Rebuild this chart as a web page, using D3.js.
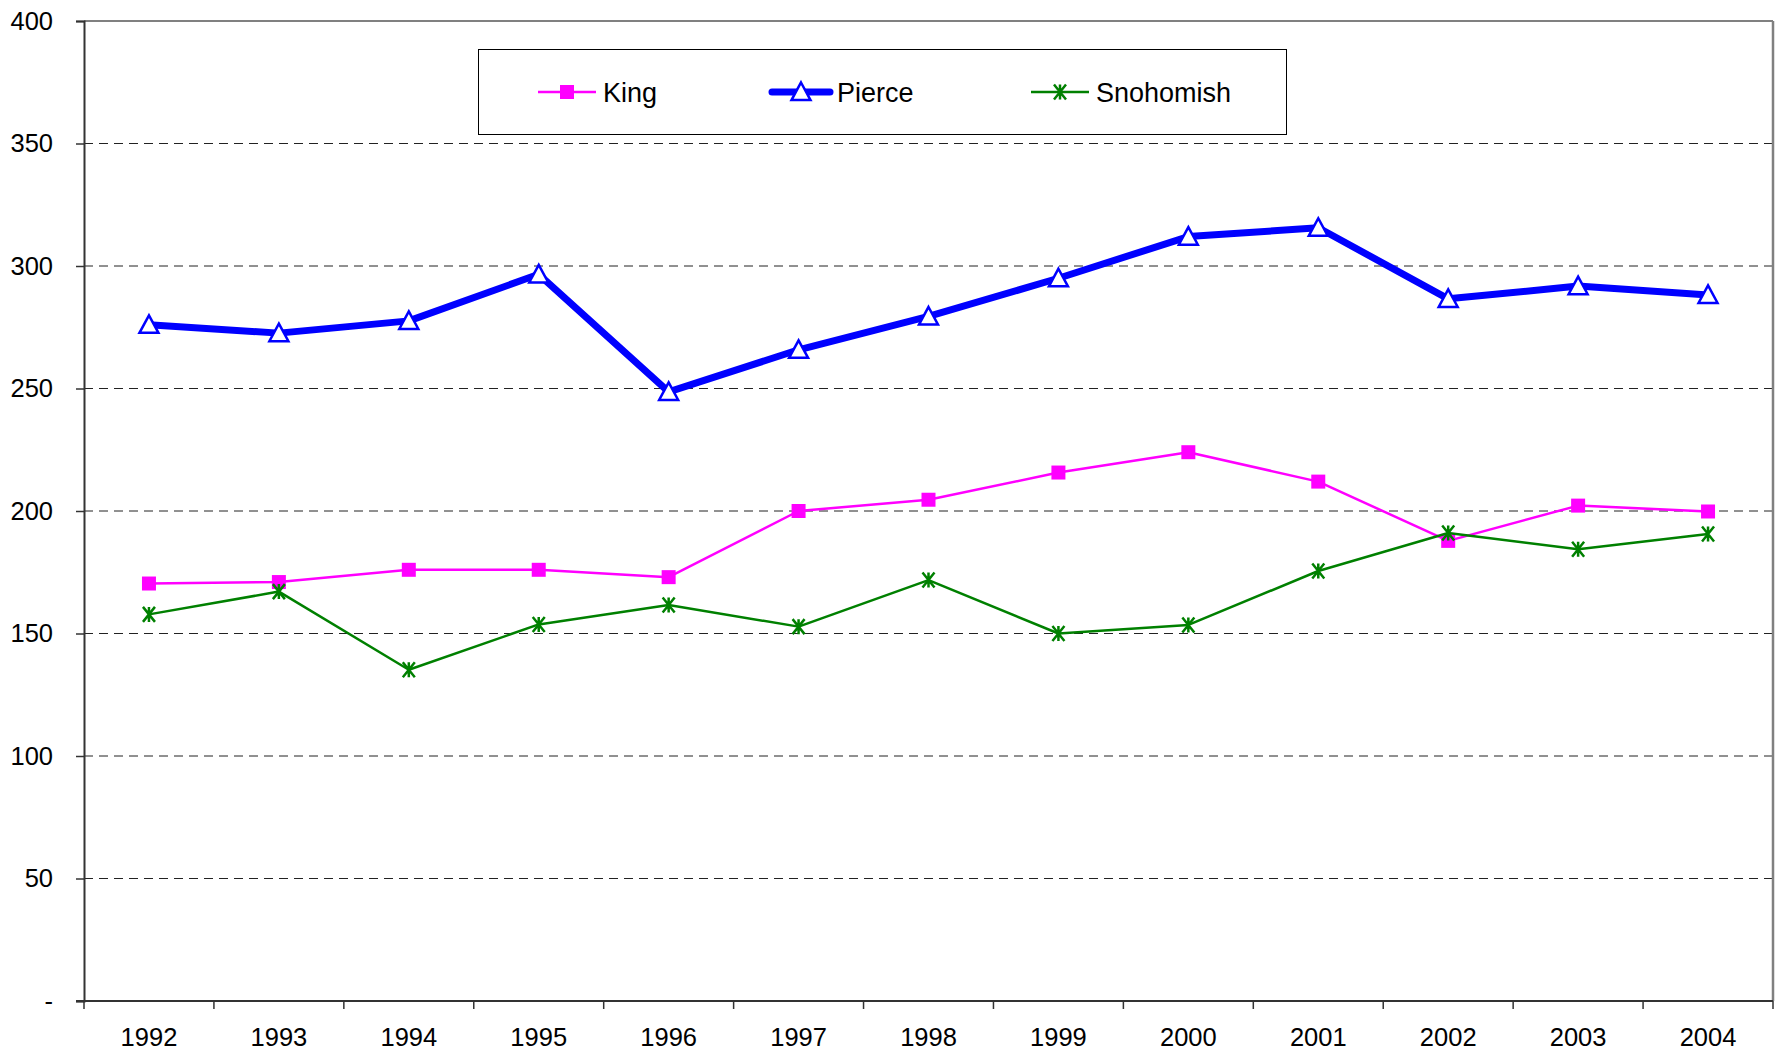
<!DOCTYPE html>
<html lang="en">
<head>
    <meta charset="UTF-8">
    <title>King, Pierce and Snohomish</title>
    <script src="https://d3js.org/d3.v7.min.js"></script>
    <style>
        body {
            margin: 0;
            background: #fff;
            font-family: Arial, "Liberation Sans", sans-serif;
        }
        .axis text {
            font-size: 25.5px;
            fill: #000;
        }
        .legend text {
            font-size: 27px;
        }
    </style>
</head>
<body>
    <div id="chart"></div>

    <script>
        // data
        const years = ["1992", "1993", "1994", "1995", "1996", "1997", "1998",
                       "1999", "2000", "2001", "2002", "2003", "2004"];
        const king = [170.4, 171, 176, 176, 173, 200, 204.6, 215.7, 224, 212, 187.8, 202.2, 199.8];
        const pierce = [276, 272.6, 277.6, 296.6, 248.6, 265.8, 279.4, 295, 312, 315.6, 286.6, 291.8, 288.2];
        const snohomish = [157.8, 167.1, 135.2, 153.7, 161.6, 152.8, 171.8, 150, 153.5, 175.5, 191, 184.4, 190.6];
        const yTicks = [0, 50, 100, 150, 200, 250, 300, 350, 400];

        const width = 1781, height = 1055;
        const plot = { left: 84, right: 1773, top: 21, bottom: 1001 };

        const svg = d3.select("#chart")
            .append("svg")
            .attr("width", width)
            .attr("height", height);

        const x = d3.scaleBand()
            .domain(years)
            .range([plot.left, plot.right]);

        const y = d3.scaleLinear()
            .domain([0, 400])
            .range([plot.bottom, plot.top]);

        const cx = d => x(d) + x.bandwidth() / 2;

        // dashed gridlines
        svg.append("g")
            .selectAll("line")
            .data(yTicks.filter(d => d > 0 && d < 400))
            .join("line")
            .attr("x1", plot.left)
            .attr("x2", plot.right)
            .attr("y1", d => y(d))
            .attr("y2", d => y(d))
            .attr("stroke", "#222")
            .attr("stroke-width", 1)
            .attr("stroke-dasharray", "9,6");

        // frame top and right in gray
        svg.append("line")
            .attr("x1", plot.left).attr("x2", plot.right)
            .attr("y1", y(400)).attr("y2", y(400))
            .attr("stroke", "#808080").attr("stroke-width", 2);
        svg.append("line")
            .attr("x1", plot.right).attr("x2", plot.right)
            .attr("y1", y(400)).attr("y2", y(0))
            .attr("stroke", "#808080").attr("stroke-width", 2.5);

        // y axis
        const yAxis = svg.append("g")
            .attr("class", "axis")
            .attr("transform", `translate(${plot.left},0)`)
            .call(d3.axisLeft(y)
                .tickValues(yTicks)
                .tickSize(8)
                .tickPadding(23)
                .tickFormat(d => d === 0 ? "-" : d));
        yAxis.select(".domain").attr("stroke", "#333").attr("stroke-width", 2);
        yAxis.selectAll(".tick line").attr("stroke", "#333").attr("stroke-width", 1.5);
        yAxis.selectAll("text").attr("font-family", "Arial, 'Liberation Sans', sans-serif");

        // x axis: labels centred, ticks at band edges
        const xAxis = svg.append("g")
            .attr("class", "axis")
            .attr("transform", `translate(0,${plot.bottom})`)
            .call(d3.axisBottom(x).tickSize(0).tickPadding(27));
        xAxis.select(".domain").remove();
        xAxis.selectAll("text").attr("font-family", "Arial, 'Liberation Sans', sans-serif");

        svg.append("line")
            .attr("x1", plot.left - 8).attr("x2", plot.right)
            .attr("y1", plot.bottom).attr("y2", plot.bottom)
            .attr("stroke", "#333").attr("stroke-width", 2);

        svg.append("g")
            .selectAll("line")
            .data(years.map(d => x(d)).concat([plot.right]))
            .join("line")
            .attr("x1", d => d).attr("x2", d => d)
            .attr("y1", plot.bottom).attr("y2", plot.bottom + 8)
            .attr("stroke", "#333")
            .attr("stroke-width", 1.5);

        // marker shapes
        function squarePath(s) {
            return `M${-s},${-s}H${s}V${s}H${-s}Z`;
        }
        function trianglePath(s) {
            return `M0,${-s}L${s},${s * 0.85}H${-s}Z`;
        }
        function starPath(s) {
            const d = s * 0.8;
            return `M${-d},${-s}L${d},${s}M${d},${-s}L${-d},${s}M0,${-s}V${s}`;
        }

        const series = [
            { name: "King", values: king, color: "#ff00ff", width: 2.5,
              marker: squarePath(7), fill: "#ff00ff", mstroke: "none", mwidth: 0 },
            { name: "Pierce", values: pierce, color: "#0000ff", width: 7,
              marker: trianglePath(9.5), fill: "#fff", mstroke: "#0000ff", mwidth: 2.5 },
            { name: "Snohomish", values: snohomish, color: "#008000", width: 2.5,
              marker: starPath(7.5), fill: "none", mstroke: "#008000", mwidth: 2.5 }
        ];

        const line = d3.line()
            .x((d, i) => cx(years[i]))
            .y(d => y(d));

        series.forEach(s => {
            svg.append("path")
                .datum(s.values)
                .attr("fill", "none")
                .attr("stroke", s.color)
                .attr("stroke-width", s.width)
                .attr("stroke-linejoin", "round")
                .attr("d", line);

            svg.append("g")
                .selectAll("path")
                .data(s.values)
                .join("path")
                .attr("transform", (d, i) => `translate(${cx(years[i])},${y(d)})`)
                .attr("d", s.marker)
                .attr("fill", s.fill)
                .attr("stroke", s.mstroke)
                .attr("stroke-width", s.mwidth);
        });

        // legend
        const legend = svg.append("g").attr("class", "legend");
        legend.append("rect")
            .attr("x", 478.5).attr("y", 49.5)
            .attr("width", 808).attr("height", 85)
            .attr("fill", "#fff")
            .attr("stroke", "#000")
            .attr("stroke-width", 1);

        const legendX = [538, 772, 1031];
        const legendY = 92;
        series.forEach((s, i) => {
            const g = legend.append("g")
                .attr("transform", `translate(${legendX[i]},${legendY})`);
            g.append("line")
                .attr("x1", 0).attr("x2", 58)
                .attr("stroke", s.color)
                .attr("stroke-width", s.width)
                .attr("stroke-linecap", s.name === "Pierce" ? "round" : "butt");
            g.append("path")
                .attr("transform", "translate(29,0)")
                .attr("d", s.marker)
                .attr("fill", s.fill)
                .attr("stroke", s.mstroke)
                .attr("stroke-width", s.mwidth);
            g.append("text")
                .attr("x", 65)
                .attr("y", 10)
                .attr("fill", "#000")
                .text(s.name);
        });
    </script>
</body>
</html>
